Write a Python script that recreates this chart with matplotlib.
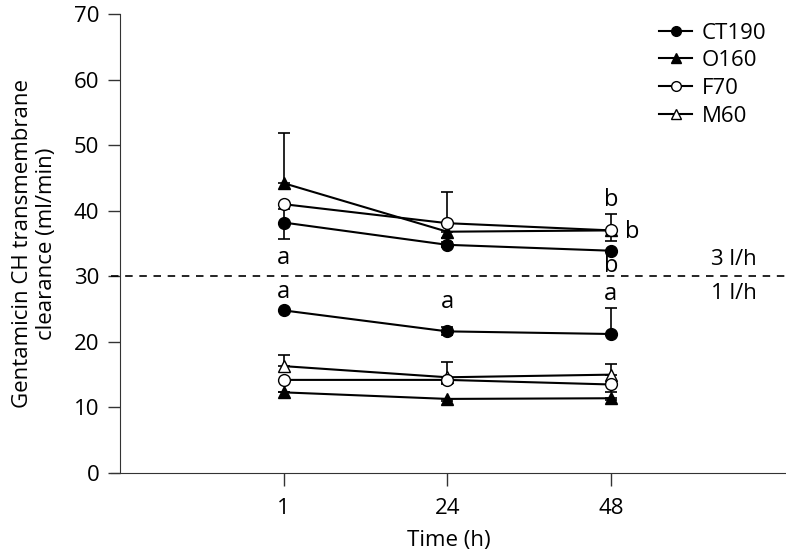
import numpy as np
import matplotlib
matplotlib.use('Agg')
import matplotlib.pyplot as plt
from matplotlib.lines import Line2D

plt.rcParams['font.family'] = ['Open Sans', 'DejaVu Sans']
plt.rcParams['font.size'] = 16

# x categories
time_labels = ['1', '24', '48']
xpos = [1, 2, 3]

# 3 l/h group
ct190_hi = [38.2, 34.8, 33.9]
ct190_hi_up = [2.0, 0.4, 0.0]
ct190_hi_dn = [2.5, 0.4, 0.0]
o160_hi = [44.2, 36.8, 37.0]
o160_hi_up = [7.6, 0.0, 0.0]
o160_hi_dn = [0.0, 0.9, 0.0]
f70_hi = [41.0, 38.1, 37.0]
f70_hi_up = [0.0, 4.8, 2.5]
f70_hi_dn = [0.0, 0.0, 1.6]

# 1 l/h group
ct190_lo = [24.8, 21.6, 21.2]
ct190_lo_up = [0.0, 0.6, 3.9]
ct190_lo_dn = [0.0, 0.6, 0.0]
m60_lo = [16.3, 14.6, 15.0]
m60_lo_up = [1.7, 2.4, 1.7]
m60_lo_dn = [0.0, 0.0, 0.0]
f70_lo = [14.2, 14.2, 13.5]
f70_lo_up = [0.0, 0.0, 0.0]
f70_lo_dn = [0.0, 0.6, 1.1]
o160_lo = [12.3, 11.3, 11.4]
o160_lo_up = [0.0, 0.0, 0.0]
o160_lo_dn = [0.0, 0.3, 0.3]

# significance letters: (x, y, letter)
letters = [(1, 32.8, 'a'), (1, 27.6, 'a'), (2, 26.1, 'a'), (3, 27.3, 'a'),
           (3, 41.6, 'b'), (3.13, 36.7, 'b'), (3, 31.5, 'b')]

fig = plt.figure(figsize=(7.86, 5.54), dpi=100)
ax = fig.add_axes([0.1412, 0.1462, 0.8588, 0.8285])

styles = {
    'CT190': dict(marker='o', mfc='black'),
    'O160': dict(marker='^', mfc='black'),
    'F70': dict(marker='o', mfc='white'),
    'M60': dict(marker='^', mfc='white'),
}

def draw(y, up, dn, name):
    st = styles[name]
    ax.errorbar(xpos, y, yerr=[dn, up], color='black', lw=1.5,
                marker=st['marker'], mfc=st['mfc'], mec='black', ms=8.5,
                capsize=4, capthick=1.2, elinewidth=1.2, zorder=3)

draw(ct190_hi, ct190_hi_up, ct190_hi_dn, 'CT190')
draw(o160_hi, o160_hi_up, o160_hi_dn, 'O160')
draw(f70_hi, f70_hi_up, f70_hi_dn, 'F70')
draw(m60_lo, m60_lo_up, m60_lo_dn, 'M60')
draw(ct190_lo, ct190_lo_up, ct190_lo_dn, 'CT190')
draw(f70_lo, f70_lo_up, f70_lo_dn, 'F70')
draw(o160_lo, o160_lo_up, o160_lo_dn, 'O160')

ax.axhline(30, color='black', ls=(0, (4.5, 4)), lw=1.2)
ax.text(3.75, 31.0, '3 l/h', ha='center', va='bottom', fontsize=16)
ax.text(3.75, 29.0, '1 l/h', ha='center', va='top', fontsize=16)

for x, y, s in letters:
    ax.text(x, y, s, ha='center', va='center', fontsize=17)

ax.set_xlim(-0.055, 4.07)
ax.set_ylim(0, 70)
ax.set_xticks(xpos)
ax.set_xticklabels(time_labels)
ax.set_yticks(np.arange(0, 71, 10))
ax.spines['top'].set_visible(False)
ax.spines['right'].set_visible(False)
ax.spines['left'].set_position(('data', 0))
ax.spines['left'].set_color('#333333')
ax.spines['bottom'].set_color('#333333')
ax.tick_params(direction='out', length=9, width=1, color='#333333', pad=6)
ax.tick_params(axis='x', pad=9)
ax.set_xlabel('Time (h)', labelpad=8)
ax.set_ylabel('Gentamicin CH transmembrane\nclearance (ml/min)', labelpad=12)

handles = [Line2D([], [], color='black', lw=1.5, marker=styles[n]['marker'],
                  mfc=styles[n]['mfc'], mec='black', ms=7)
           for n in ['CT190', 'O160', 'F70', 'M60']]
ax.legend(handles, ['CT190', 'O160', 'F70', 'M60'], loc='upper right',
          bbox_to_anchor=(1.0, 1.025), frameon=False, handlelength=1.5,
          handletextpad=0.4, labelspacing=0.3, fontsize=16)

fig.savefig('out.png', dpi=100)
